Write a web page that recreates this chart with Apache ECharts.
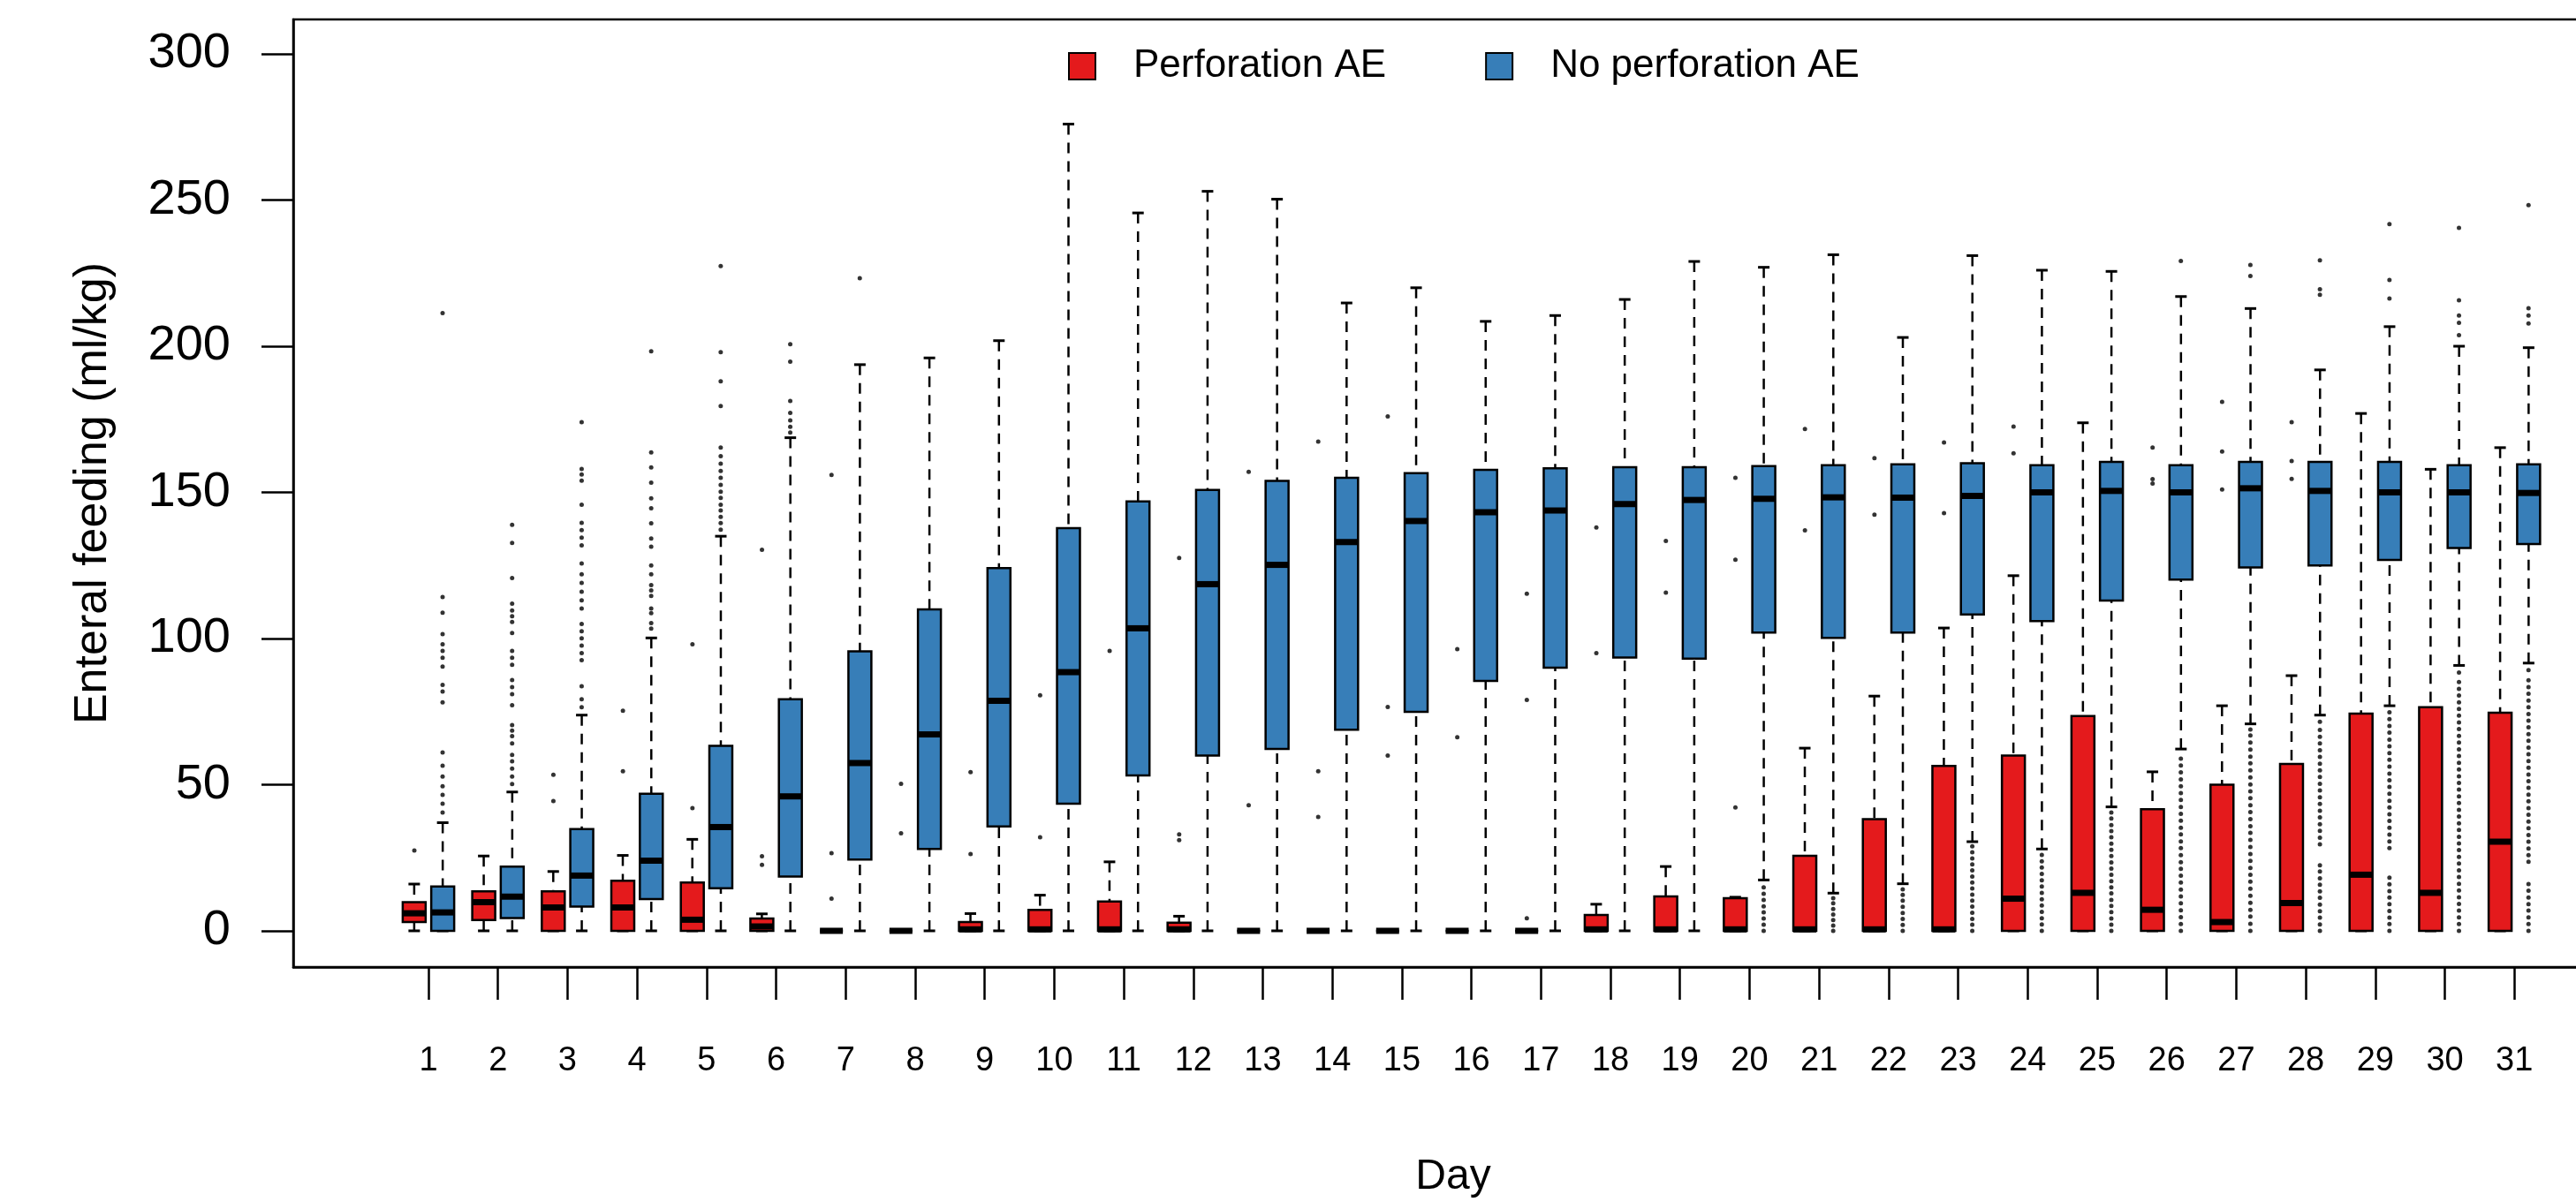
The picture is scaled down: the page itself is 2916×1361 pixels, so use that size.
<!DOCTYPE html>
<html>
<head>
<meta charset="utf-8">
<title>Enteral feeding by day</title>
<script src="https://cdn.jsdelivr.net/npm/echarts@6/dist/echarts.min.js"></script>
<style>
  html, body { margin: 0; padding: 0; background: #ffffff; }
  #chart { width: 2916px; height: 1361px; }
</style>
</head>
<body>
<div id="chart"></div>
<script>
// x categories (days) and y ticks
var days = [1, 2, 3, 4, 5, 6, 7, 8, 9, 10, 11, 12, 13, 14, 15, 16, 17, 18, 19, 20, 21, 22, 23, 24, 25, 26, 27, 28, 29, 30, 31];
var yTicks = [0, 50, 100, 150, 200, 250, 300];

// box stats per day: [lower whisker, Q1, median, Q3, upper whisker]
var perfStats = [
    [0, 3, 6, 9.8, 16],
    [0, 3.7, 9.8, 13.5, 25.6],
    [0, 0, 8, 13.5, 20.3],
    [0, 0, 8, 17.1, 25.8],
    [0, 0, 3.8, 16.5, 31.3],
    [0, 0, 1.5, 4.2, 5.8],
    [0, 0, 0, 0, 0],
    [0, 0, 0, 0, 0],
    [0, 0, 0.5, 3, 5.9],
    [0, 0, 0.5, 7.2, 12.2],
    [0, 0, 0.5, 10, 23.6],
    [0, 0, 0.5, 2.8, 5],
    [0, 0, 0, 0, 0],
    [0, 0, 0, 0, 0],
    [0, 0, 0, 0, 0],
    [0, 0, 0, 0, 0],
    [0, 0, 0, 0, 0],
    [0, 0, 0.5, 5.4, 9.1],
    [0, 0, 0.5, 11.8, 22],
    [0, 0, 0.5, 11.2, 11.5],
    [0, 0, 0.5, 25.7, 62.5],
    [0, 0, 0.5, 38.2, 80.3],
    [0, 0, 0.5, 56.4, 103.6],
    [0, 0, 11, 60, 121.5],
    [0, 0, 13, 73.5, 173.8],
    [0, 0, 7.2, 41.6, 54.4],
    [0, 0, 3, 50, 77],
    [0, 0, 9.5, 57.1, 87.3],
    [0, 0, 19.2, 74.3, 177],
    [0, 0, 13, 76.5, 157.9],
    [0, 0, 30.5, 74.6, 165.3]
];
var noPerfStats = [
    [0, 0, 6.3, 15.2, 37],
    [0, 4.4, 11.7, 22, 47.5],
    [0, 8.3, 18.9, 34.8, 73.8],
    [0, 10.9, 24, 46.9, 100.2],
    [0, 14.6, 35.5, 63.3, 135],
    [0, 18.6, 46, 79.2, 168.7],
    [0, 24.4, 57.4, 95.6, 193.7],
    [0, 28, 67.2, 110, 196],
    [0, 35.7, 78.7, 124.1, 201.9],
    [0, 43.5, 88.5, 137.8, 276],
    [0, 53.2, 103.5, 146.9, 245.6],
    [0, 60, 118.6, 150.8, 253],
    [0, 62.2, 125.2, 153.9, 250.3],
    [0, 68.8, 133, 155, 214.8],
    [0, 74.9, 140.2, 156.6, 220],
    [0, 85.5, 143.2, 157.7, 208.5],
    [0, 90, 143.8, 158.2, 210.5],
    [0, 93.5, 146, 158.6, 216],
    [0, 93.1, 147.4, 158.6, 229],
    [17.4, 102, 147.8, 159, 227],
    [12.9, 100.2, 148.3, 159.3, 231.3],
    [16.1, 102, 148.2, 159.6, 203],
    [30.5, 108.2, 148.8, 160, 231],
    [28, 106, 150, 159.3, 226],
    [42.4, 113, 150.5, 160.4, 225.6],
    [62.2, 120.2, 150, 159.3, 217],
    [70.8, 124.3, 151.4, 160.4, 212.9],
    [73.8, 125, 150.5, 160.4, 191.9],
    [77, 126.9, 150, 160.4, 206.7],
    [90.8, 131, 150, 159.3, 200],
    [91.6, 132.3, 149.8, 159.6, 199.5]
];

// outliers per day
var perfOutliers = [
    [27.5], [], [44.4, 53.4], [54.6, 75.3], [42, 98],
    [22.6, 25.5, 130.4], [11, 26.6, 156], [33.4, 50.3], [26.3, 54.3], [32, 80.6],
    [95.8], [31, 33, 127.6], [43, 157], [39, 54.6, 167.4], [60, 76.6, 176],
    [66.2, 96.4], [4.3, 79, 115.3], [95, 138], [115.7, 133.4], [42.2, 127, 155],
    [137, 171.7], [142.4, 161.7], [142.9, 167.1], [163.4, 172.5], [],
    [153, 154.5, 165.3], [151, 164, 181], [154.6, 160.7, 174], [], [], []
];
var noPerfOutliers = [
    [40.5, 43.5, 46.5, 49.5, 52.8, 56.5, 61, 78.2, 81.9, 84.1, 90.4, 93.4, 95.8, 98, 101.5, 108.8, 114.2, 211.3],
    [50.2, 52.8, 55.5, 58, 60.2, 64.1, 66.6, 68.5, 70.4, 77.2, 81, 83.4, 85.8, 91, 93.4, 95.8, 101.9, 105.7, 107.6, 109.6, 111.9, 120.7, 132.7, 138.9],
    [76.5, 79.2, 83.7, 92.6, 95, 97.6, 100.1, 102.5, 105, 110.3, 113.1, 116, 119, 122, 125.7, 131.9, 134.5, 137.1, 139.6, 145.8, 154, 156.1, 158, 174],
    [103.4, 105.3, 108.7, 110.3, 114.6, 116.5, 118.3, 122, 125, 131.4, 134.2, 139.4, 144.6, 148, 153.3, 158.5, 163.7, 198.3],
    [137.2, 139.5, 141.6, 143.8, 145.8, 148.1, 150.2, 152.6, 155, 157.3, 159.8, 162.4, 165.3, 179.5, 188, 198, 227.4],
    [170.5, 172.4, 174.6, 177.2, 181.3, 194.7, 200.7],
    [223.3],
    [], [], [], [], [], [], [], [], [], [], [], [],
    [0, 2.1, 4.2, 6.3, 8.4, 10.6, 12.7, 14.9],
    [0, 1.8, 3.7, 5.6, 7.5, 9.4, 11.2],
    [0, 2, 4.1, 6.1, 8.2, 10.3, 12.3, 14.2],
    [0, 2.1, 4.1, 6.2, 8.3, 10.3, 12.4, 14.5, 16.5, 18.6, 20.7, 22.7, 24.8, 26.9, 28.9],
    [0, 2.2, 4.3, 6.5, 8.7, 10.8, 13, 15.2, 17.3, 19.5, 21.7, 23.8, 26],
    [0, 2.1, 4.2, 6.4, 8.5, 10.6, 12.8, 14.9, 17, 19.2, 21.3, 23.4, 25.6, 27.7, 29.8, 32, 34.1, 36.2, 38.4, 40.5],
    [0, 2.3, 4.7, 7, 9.4, 11.8, 14.1, 16.5, 18.9, 21.2, 23.5, 25.9, 28.3, 30.6, 33, 35.3, 37.7, 40, 42.4, 44.8, 47.1, 49.5, 51.8, 54.2, 56.6, 58.9, 229.2],
    [0, 2.4, 4.9, 7.2, 9.6, 12, 14.4, 16.8, 19.2, 21.5, 23.9, 26.3, 28.7, 31.1, 33.5, 35.8, 38.2, 40.6, 43, 45.4, 47.7, 50.1, 52.5, 54.9, 57.3, 59.6, 62, 64.4, 66.8, 68.9, 224, 227.8],
    [0, 2.2, 4.5, 6.7, 9, 11.3, 13.5, 15.8, 18, 20.3, 22.4, 29.6, 31.9, 34.2, 36.5, 38.8, 41.1, 43.4, 45.7, 48, 50.3, 52.6, 54.9, 57.2, 59.5, 61.8, 64.1, 66.4, 68.7, 71.5, 217.6, 219.5, 229.4],
    [0, 2.3, 4.5, 6.8, 9.1, 11.4, 13.6, 15.9, 18.2, 28.3, 30.6, 32.9, 35.3, 37.6, 39.9, 42.2, 44.5, 46.9, 49.2, 51.5, 53.8, 56.2, 58.5, 60.8, 63.1, 65.4, 67.8, 70.1, 72.4, 74.8, 216.3, 222.7, 241.8],
    [0, 2.3, 4.6, 6.9, 9.2, 11.5, 13.8, 16.1, 18.4, 20.7, 23, 25.3, 27.6, 29.9, 32.2, 34.5, 36.8, 39.1, 41.4, 43.7, 46, 48.3, 50.6, 52.9, 55.2, 57.5, 59.8, 62.1, 64.4, 66.7, 69, 71.3, 73.6, 75.9, 78.2, 80.5, 82.8, 85.1, 88.4, 203.8, 208, 210.5, 215.7, 240.5],
    [0, 2.3, 4.6, 6.9, 9.1, 11.4, 13.7, 16, 23.6, 25.9, 28.2, 30.5, 32.8, 35.1, 37.4, 39.7, 42, 44.3, 46.6, 48.9, 51.2, 53.5, 55.8, 58.1, 60.4, 62.7, 65, 67.3, 69.6, 71.9, 74.2, 76.5, 78.8, 81.1, 83.4, 85.7, 89.2, 207.8, 210.5, 213, 248.3]
];

var RED = '#E41A1C';
var BLUE = '#377EB8';
var FONT = 'Liberation Sans';

// draws one R-style box: dashed whiskers, caps, filled box, thick median
function boxRenderer(side, fill) {
    return function (params, api) {
        var day = api.value(0);
        var unit = api.size([1, 0])[0];
        var cx = api.coord([day, 0])[0] + side * unit * 0.205;
        var half = unit * 0.165;
        var yLo = api.coord([day, api.value(1)])[1];
        var yQ1 = api.coord([day, api.value(2)])[1];
        var yMed = api.coord([day, api.value(3)])[1];
        var yQ3 = api.coord([day, api.value(4)])[1];
        var yHi = api.coord([day, api.value(5)])[1];
        var dash = { stroke: '#000', lineWidth: 2.5, lineDash: [12, 9], fill: null };
        var cap = { stroke: '#000', lineWidth: 3 };
        return {
            type: 'group',
            children: [
                { type: 'line', shape: { x1: cx, y1: yHi, x2: cx, y2: yQ3 }, style: dash },
                { type: 'line', shape: { x1: cx, y1: yLo, x2: cx, y2: yQ1 }, style: dash },
                { type: 'line', shape: { x1: cx - half / 2, y1: yHi, x2: cx + half / 2, y2: yHi }, style: cap },
                { type: 'line', shape: { x1: cx - half / 2, y1: yLo, x2: cx + half / 2, y2: yLo }, style: cap },
                { type: 'rect', shape: { x: cx - half, y: yQ3, width: half * 2, height: yQ1 - yQ3 },
                  style: { fill: fill, stroke: '#000', lineWidth: 2.5 } },
                { type: 'line', shape: { x1: cx - half, y1: yMed, x2: cx + half, y2: yMed },
                  style: { stroke: '#000', lineWidth: 7 } }
            ]
        };
    };
}

function boxData(stats) {
    return days.map(function (d, i) { return [d].concat(stats[i]); });
}
function outlierData(lists) {
    var out = [];
    days.forEach(function (d, i) {
        lists[i].forEach(function (v) { out.push([d, v]); });
    });
    return out;
}

var chart = echarts.init(document.getElementById('chart'));
var option = {
    animation: false,
    backgroundColor: '#ffffff',
    textStyle: { fontFamily: FONT, color: '#000' },
    // plot frame runs past the right edge of the canvas, as in the original
    grid: {
        left: 332, top: 22, width: 2626, bottom: 266,
        outerBoundsMode: 'none',
        show: true, borderColor: '#000', borderWidth: 2.5
    },
    legend: {
        data: ['Perforation AE', 'No perforation AE'],
        left: 1204, top: 48,
        icon: 'rect',
        itemWidth: 30, itemHeight: 30, itemGap: 112,
        itemStyle: { borderColor: '#000', borderWidth: 2 },
        textStyle: { fontSize: 44, color: '#000', fontFamily: FONT, padding: [0, 0, 0, 38] }
    },
    xAxis: {
        type: 'value',
        min: -0.944, max: 32.42,
        splitLine: { show: false },
        axisLine: { show: true, onZero: false, lineStyle: { color: '#000', width: 2.5 } },
        axisTick: { show: true, length: 37, customValues: days, lineStyle: { color: '#000', width: 2.5 } },
        axisLabel: { customValues: days, margin: 88, fontSize: 38, color: '#000', fontFamily: FONT },
        name: 'Day', nameLocation: 'middle', nameGap: 214,
        nameTextStyle: { fontSize: 48, color: '#000', fontFamily: FONT }
    },
    yAxis: {
        type: 'value',
        min: -12.4, max: 311.8,
        splitLine: { show: false },
        axisLine: { show: true, onZero: false, lineStyle: { color: '#000', width: 2.5 } },
        axisTick: { show: true, length: 36, customValues: yTicks, lineStyle: { color: '#000', width: 2.5 } },
        axisLabel: { customValues: yTicks, margin: 71, fontSize: 56, color: '#000', fontFamily: FONT },
        name: 'Enteral feeding (ml/kg)', nameLocation: 'middle', nameGap: 200,
        nameTextStyle: { fontSize: 52, color: '#000', fontFamily: FONT }
    },
    series: [
        {
            name: 'Perforation AE',
            type: 'custom',
            renderItem: boxRenderer(-1, RED),
            itemStyle: { color: RED, borderColor: '#000', borderWidth: 2 },
            encode: { x: 0, y: [1, 2, 3, 4, 5] },
            data: boxData(perfStats),
            z: 3
        },
        {
            name: 'No perforation AE',
            type: 'custom',
            renderItem: boxRenderer(1, BLUE),
            itemStyle: { color: BLUE, borderColor: '#000', borderWidth: 2 },
            encode: { x: 0, y: [1, 2, 3, 4, 5] },
            data: boxData(noPerfStats),
            z: 3
        },
        {
            name: 'Perforation AE outliers',
            type: 'scatter',
            symbol: 'circle',
            symbolSize: 5,
            symbolOffset: [-16, 0],
            itemStyle: { color: '#000' },
            data: outlierData(perfOutliers),
            z: 4
        },
        {
            name: 'No perforation AE outliers',
            type: 'scatter',
            symbol: 'circle',
            symbolSize: 5,
            symbolOffset: [16, 0],
            itemStyle: { color: '#000' },
            data: outlierData(noPerfOutliers),
            z: 4
        }
    ]
};
chart.setOption(option);
</script>
</body>
</html>
